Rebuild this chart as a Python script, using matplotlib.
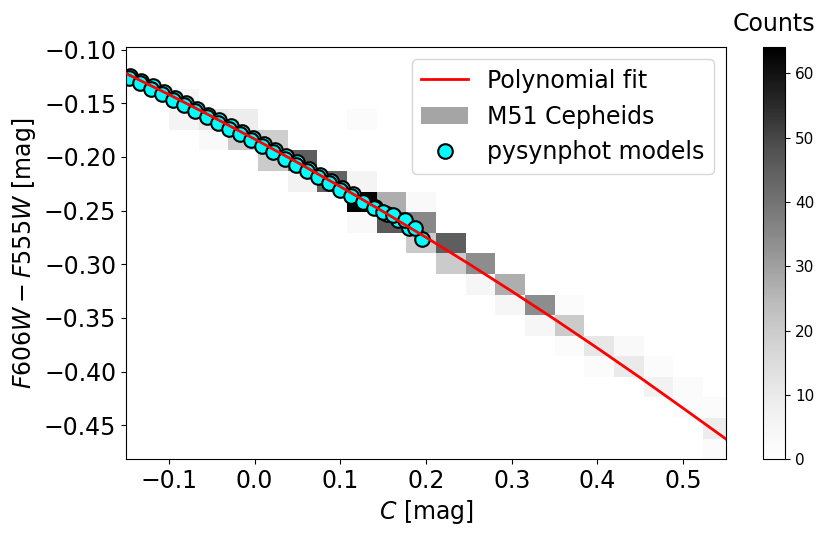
import numpy as np
import matplotlib
matplotlib.use('Agg')
import matplotlib.pyplot as plt
from matplotlib.patches import Patch

# M51 Cepheids, binned: bin centres (C, colour) and counts per bin
cep_c = [-0.0825, -0.0825, -0.0479, -0.0479, -0.0133, -0.0133, 0.0213, 0.0213,
         0.0559, 0.0559, 0.0905, 0.1251, 0.1251, 0.1251, 0.1251, 0.1597, 0.1597,
         0.1943, 0.1943, 0.1943, 0.2289, 0.2289, 0.2635, 0.2635, 0.2981, 0.2981,
         0.3327, 0.3327, 0.3673, 0.3673, 0.3673, 0.4019, 0.4019, 0.4365, 0.4365,
         0.4711, 0.4711, 0.5057, 0.5057, 0.5403, 0.5403, 0.5403]
cep_col = [-0.1460, -0.1651, -0.1651, -0.1843, -0.1651, -0.1843, -0.1843, -0.2035,
           -0.2035, -0.2227, -0.2227, -0.1651, -0.2227, -0.2419, -0.2610, -0.2419, -0.2610,
           -0.2419, -0.2610, -0.2802, -0.2802, -0.2994, -0.2994, -0.3186, -0.3186, -0.3378,
           -0.3378, -0.3569, -0.3378, -0.3569, -0.3761, -0.3761, -0.3953, -0.3761, -0.3953,
           -0.3953, -0.4145, -0.4145, -0.4337, -0.4337, -0.4528, -0.4720]
cep_n = [5, 6, 11, 3, 9, 20, 19, 20,
         45, 7, 44, 2, 6, 64, 3, 27, 46,
         3, 35, 20, 45, 20, 34, 5, 27, 5,
         34, 5, 2, 20, 2, 11, 2, 3, 10,
         2, 7, 2, 2, 2, 9, 2]

# pysynphot models
model_c = [-0.145, -0.132, -0.119, -0.106, -0.093, -0.080, -0.067, -0.054, -0.041,
           -0.028, -0.015, -0.002, 0.011, 0.024, 0.037, 0.050, 0.063, 0.076, 0.089,
           0.102, 0.115, 0.128, 0.141, 0.154, 0.167, 0.180, 0.195,
           -0.147, -0.134, -0.121, -0.108, -0.095, -0.082, -0.069, -0.056, -0.043,
           -0.030, -0.017, -0.004, 0.009, 0.022, 0.035, 0.048, 0.061, 0.074, 0.087,
           0.100, 0.113, 0.126, 0.139, 0.150, 0.162, 0.176, 0.187]
model_col = [-0.1241, -0.1292, -0.1343, -0.1395, -0.1447, -0.1499, -0.1552, -0.1606, -0.1660,
             -0.1714, -0.1769, -0.1824, -0.1880, -0.1937, -0.1994, -0.2051, -0.2109, -0.2167, -0.2226,
             -0.2286, -0.2346, -0.2406, -0.2467, -0.2528, -0.2590, -0.2665, -0.2760,
             -0.1262, -0.1313, -0.1364, -0.1416, -0.1468, -0.1520, -0.1573, -0.1627, -0.1681,
             -0.1735, -0.1790, -0.1845, -0.1901, -0.1958, -0.2015, -0.2072, -0.2130, -0.2188, -0.2247,
             -0.2305, -0.2362, -0.2420, -0.2478, -0.2510, -0.2537, -0.2590, -0.2661]

# polynomial fit
fit_c = [-0.15, -0.10, -0.05, 0.00, 0.05, 0.10, 0.15, 0.20, 0.25, 0.30,
         0.35, 0.40, 0.45, 0.50, 0.55]
fit_col = [-0.1222, -0.1418, -0.1622, -0.1833, -0.2051, -0.2276, -0.2509, -0.2749,
           -0.2996, -0.3251, -0.3512, -0.3781, -0.4057, -0.4341, -0.4628]

x_edges = np.linspace(-0.0998, 0.5922, 21)
y_edges = np.linspace(-0.4816, -0.0980, 21)

fig = plt.figure(figsize=(8.3, 5.36), dpi=100)
ax = fig.add_axes([0.1518, 0.1433, 0.7229, 0.7681])
cax = fig.add_axes([0.9196, 0.1433, 0.0265, 0.7681])

h = ax.hist2d(cep_c, cep_col, bins=[x_edges, y_edges], weights=cep_n, cmap='Greys', zorder=1)
ax.scatter(model_c, model_col, s=110, c='cyan', edgecolors='black', linewidths=1.5, zorder=2)
ax.plot(fit_c, fit_col, color='red', lw=2, zorder=3)

ax.set_xlim(-0.15, 0.55)
ax.set_ylim(y_edges[0], y_edges[-1])
ax.set_xticks([-0.1, 0.0, 0.1, 0.2, 0.3, 0.4, 0.5])
ax.set_yticks([-0.10, -0.15, -0.20, -0.25, -0.30, -0.35, -0.40, -0.45])
ax.tick_params(labelsize=17)
ax.set_xlabel('$C$ [mag]', fontsize=17)
ax.set_ylabel('$F606W - F555W$ [mag]', fontsize=17)

handles = [plt.Line2D([], [], color='red', lw=2),
           Patch(facecolor='#a5a5a5', edgecolor='none'),
           plt.Line2D([], [], ls='none', marker='o', markersize=10.5,
                      markerfacecolor='cyan', markeredgecolor='black', markeredgewidth=1.5)]
ax.legend(handles, ['Polynomial fit', 'M51 Cepheids', 'pysynphot models'],
          loc='upper right', fontsize=17)

cb = fig.colorbar(h[3], cax=cax)
cb.ax.tick_params(labelsize=11)
cb.ax.set_title('Counts', fontsize=17, pad=12)

fig.savefig('out.png', dpi=100)
